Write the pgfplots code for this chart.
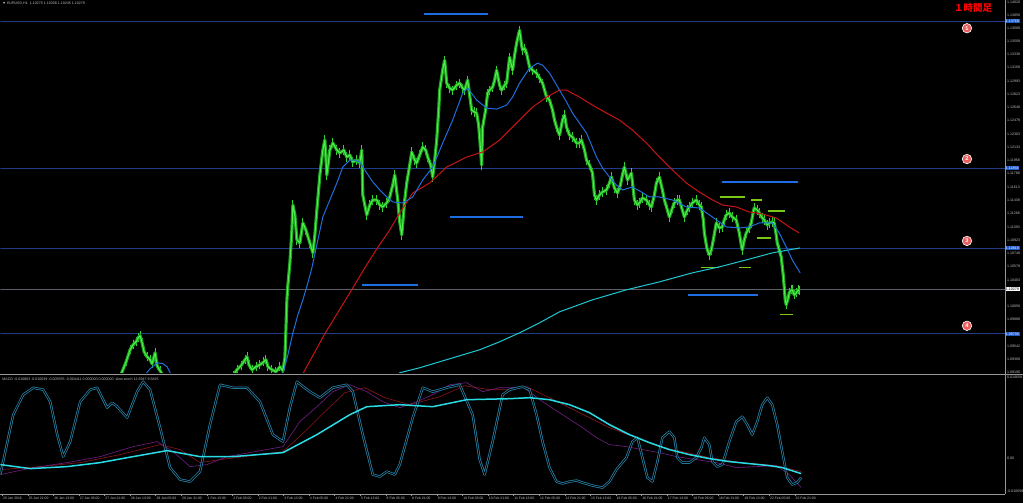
\documentclass[border=0pt]{standalone}
\usepackage{fontspec}
\setmainfont{Liberation Sans}
\newfontfamily\cjk{Noto Sans CJK JP}
\usepackage{pgfplots}
\pgfplotsset{compat=1.18}
\usepackage{pgfplotstable}
\definecolor{scalegray}{RGB}{150,150,150}
\definecolor{labelgray}{RGB}{190,190,190}
\definecolor{candledark}{RGB}{30,165,30}
\definecolor{candlebright}{RGB}{80,240,80}
\definecolor{wick}{RGB}{50,215,50}
\definecolor{colblue}{RGB}{30,110,220}
\definecolor{colred}{RGB}{200,20,20}
\definecolor{colcyan}{RGB}{30,200,210}
\definecolor{hline}{RGB}{30,60,135}
\definecolor{curline}{RGB}{90,95,105}
\definecolor{segblue}{RGB}{30,110,225}
\definecolor{seggreen}{RGB}{120,200,20}
\definecolor{stochcol}{RGB}{40,135,175}
\definecolor{thickcyan}{RGB}{40,220,230}
\definecolor{macdpurple}{RGB}{115,30,135}
\definecolor{macdred}{RGB}{140,20,30}
\definecolor{circfill}{RGB}{235,95,95}
\definecolor{boxblue}{RGB}{30,90,200}

\pgfplotstableread{
x p
118 1.09102
122 1.09206
126 1.09336
130 1.09492
133 1.09557
136 1.09596
138 1.09648
140 1.09674
142 1.09583
144 1.09466
147 1.09401
150 1.09362
152 1.09310
155 1.09453
157 1.09284
160 1.09219
164 1.09128
170 1.08972
200 1.08842
228 1.08946
233 1.09154
237 1.09232
241 1.09284
245 1.09362
247 1.09401
249 1.09297
252 1.09232
256 1.09271
260 1.09297
264 1.09336
266 1.09362
268 1.09271
272 1.09232
276 1.09206
280 1.09271
283 1.09219
285 1.09388
286 1.09752
287 1.10142
288 1.10337
290 1.10623
292 1.11052
293 1.11377
295 1.11247
297 1.10922
300 1.10883
303 1.11143
306 1.11052
310 1.10883
313 1.10753
315 1.10987
317 1.11312
320 1.11767
323 1.12092
325 1.12222
327 1.11767
330 1.12092
333 1.12183
337 1.12092
340 1.12053
344 1.12092
347 1.12001
350 1.12027
353 1.11936
357 1.11962
360 1.11923
362 1.12092
363 1.11507
365 1.11377
367 1.11247
370 1.11377
373 1.11442
377 1.11442
380 1.11377
383 1.11351
387 1.11403
390 1.11481
393 1.11637
395 1.11767
398 1.11442
400 1.11156
402 1.10987
405 1.11442
407 1.11663
410 1.11897
412 1.12066
415 1.11962
417 1.11923
420 1.12027
423 1.12131
426 1.12092
428 1.12001
431 1.11897
433 1.11741
435 1.11962
437 1.12222
439 1.12612
440 1.12872
443 1.13132
445 1.13262
447 1.12963
450 1.12898
453 1.12872
457 1.12937
460 1.12963
463 1.12898
465 1.12872
468 1.13002
470 1.12807
472 1.12612
475 1.12586
477 1.12573
479 1.12417
480 1.12261
482 1.11897
483 1.12391
486 1.12612
488 1.12833
490 1.12872
493 1.12911
495 1.13002
497 1.13132
500 1.12937
502 1.12872
505 1.12937
507 1.12963
510 1.13301
513 1.13132
515 1.13327
517 1.13483
520 1.13652
522 1.13457
523 1.13392
525 1.13418
527 1.13353
530 1.13171
533 1.13132
537 1.13093
540 1.13028
543 1.12963
547 1.12781
550 1.12742
553 1.12612
555 1.12482
557 1.12391
560 1.12287
563 1.12482
565 1.12547
567 1.12391
570 1.12287
573 1.12261
577 1.12183
580 1.12183
582 1.12222
585 1.12092
587 1.11962
590 1.11897
593 1.11793
595 1.11507
597 1.11442
600 1.11507
603 1.11546
607 1.11572
610 1.11663
612 1.11741
615 1.11598
618 1.11533
621 1.11637
623 1.11767
625 1.11871
628 1.11702
632 1.11793
635 1.11442
638 1.11377
640 1.11403
643 1.11468
647 1.11442
650 1.11377
652 1.11351
655 1.11507
657 1.11663
660 1.11741
663 1.11572
665 1.11442
668 1.11312
670 1.11221
673 1.11338
675 1.11403
678 1.11442
680 1.11442
683 1.11312
685 1.11221
688 1.11312
690 1.11351
693 1.11403
697 1.11442
700 1.11377
702 1.11351
704 1.11182
705 1.11013
707 1.10857
708 1.10792
710 1.10727
712 1.10792
714 1.10922
717 1.11143
720 1.11078
723 1.11091
725 1.11182
727 1.11247
730 1.11273
733 1.11221
737 1.11182
740 1.11013
742 1.10857
743 1.10792
745 1.10922
747 1.11013
750 1.11078
752 1.11143
754 1.11286
755 1.11338
758 1.11312
760 1.11273
763 1.11208
765 1.11182
768 1.11117
770 1.11143
773 1.11156
775 1.11143
777 1.10987
778 1.10883
780 1.10792
782 1.10701
784 1.10467
785 1.10311
786 1.10142
787 1.10077
789 1.10168
790 1.10233
792 1.10272
793 1.10272
795 1.10207
797 1.10233
799 1.10272
800 1.10259
}\price

\pgfplotstableread{
x p
130 1.08900
140 1.09050
145 1.09167
150 1.09245
157 1.09323
163 1.09310
167 1.09271
170 1.09193
175 1.09076
200 1.08907
250 1.08946
275 1.09037
283 1.09180
288 1.09427
293 1.09713
298 1.09947
303 1.10142
308 1.10363
312 1.10558
318 1.10922
323 1.11221
330 1.11442
337 1.11663
343 1.11871
350 1.11962
355 1.11962
360 1.11936
367 1.11793
373 1.11676
380 1.11572
387 1.11481
393 1.11416
403 1.11403
413 1.11481
423 1.11702
433 1.11871
443 1.12183
453 1.12482
463 1.12833
468 1.12898
477 1.12742
487 1.12638
497 1.12625
507 1.12677
513 1.12781
520 1.12963
530 1.13158
538 1.13223
543 1.13197
550 1.13093
560 1.12872
566 1.12742
573 1.12573
580 1.12443
587 1.12313
597 1.12001
603 1.11858
610 1.11741
617 1.11637
623 1.11572
633 1.11611
642 1.11546
650 1.11481
660 1.11481
673 1.11442
687 1.11351
700 1.11338
713 1.11221
727 1.11091
740 1.11078
750 1.11091
760 1.11143
773 1.11143
780 1.11013
787 1.10831
793 1.10662
801 1.10493
}\maBlueData

\pgfplotstableread{
x p
295 1.08980
303 1.09180
325 1.09700
350 1.10233
365 1.10558
377 1.10805
390 1.11052
400 1.11273
413 1.11533
430 1.11663
447 1.11871
467 1.12001
483 1.12066
500 1.12222
520 1.12482
533 1.12651
547 1.12781
560 1.12872
567 1.12872
580 1.12781
593 1.12677
607 1.12573
620 1.12482
633 1.12352
647 1.12183
660 1.12001
673 1.11832
687 1.11663
700 1.11546
713 1.11442
723 1.11377
737 1.11351
750 1.11286
763 1.11260
777 1.11208
790 1.11091
800 1.11013
}\maRedData

\pgfplotstableread{
x p
390 1.09050
400 1.09193
420 1.09258
450 1.09375
480 1.09492
500 1.09596
520 1.09713
540 1.09843
560 1.09986
593 1.10142
627 1.10272
660 1.10376
693 1.10493
720 1.10571
747 1.10662
773 1.10753
801 1.10818
}\maCyanData

\pgfplotstableread{
x v
0 20
13 80
23 100
33 107
43 105
50 93
57 60
63 38
70 53
80 93
90 105
97 107
107 87
112 92
117 88
127 77
137 103
143 113
150 105
160 67
170 27
180 15
190 13
200 23
210 70
220 110
233 107
247 107
260 93
273 60
283 53
290 87
297 113
310 103
320 97
333 107
347 110
353 103
363 60
373 20
380 18
387 23
395 20
400 30
413 77
423 107
433 103
447 107
460 110
473 80
480 35
485 20
493 53
503 100
510 105
523 108
530 105
537 80
543 53
550 27
557 13
563 11
570 13
577 14
583 12
593 9
603 7
610 13
617 25
627 37
633 53
638 57
643 37
648 17
653 13
658 33
663 57
670 63
675 57
678 37
683 32
690 32
697 37
702 47
705 57
710 50
713 33
718 28
723 30
730 53
737 73
743 78
748 70
753 60
758 73
763 90
768 97
773 90
778 70
783 43
788 17
793 10
798 12
802 17
}\stochData

\pgfplotstableread{
x v
0 30
30 26
67 28
100 32
133 38
167 44
200 38
233 38
283 42
317 60
350 80
367 88
400 90
433 88
467 95
510 96
530 97
550 95
570 90
590 82
610 70
630 60
650 52
670 45
690 40
710 36
730 33
750 31
770 29
783 27
802 21
}\thickData

\pgfplotstableread{
x v
0 20
33 27
67 32
100 38
133 48
157 53
173 43
190 28
207 30
227 38
283 48
300 73
317 88
333 103
350 110
367 103
383 93
400 87
417 93
433 100
450 110
467 112
483 103
500 107
510 107
523 108
543 93
563 80
583 67
597 57
610 50
627 48
643 45
660 42
677 38
697 35
717 32
737 27
757 28
777 29
790 20
802 7
}\macdMainData

\pgfplotstableread{
x v
0 25
40 28
80 32
120 40
160 50
180 45
200 32
220 35
283 43
305 63
325 83
345 102
365 107
385 97
410 90
440 98
465 109
490 105
510 105
527 108
550 97
570 87
590 77
610 67
637 57
660 48
683 43
710 37
743 32
777 29
802 23
}\macdSigData

\tikzset{circlab/.style={circle, fill=circfill, draw=white, line width=0.6pt, inner sep=0pt, minimum size=9.5pt, text=white, font=\fontsize{5.5}{6}\selectfont\bfseries},
  pricebox/.style={anchor=west, inner sep=0.8pt, font=\fontsize{3.6}{4}\selectfont}}

\begin{document}
\begin{tikzpicture}
\fill[black] (0pt,0pt) rectangle (1024pt,503pt);

% ---------------- main price panel ----------------
\begin{axis}[
  at={(0pt,130pt)}, anchor=south west,
  clip bounding box=upper bound,
  width=1006pt, height=373pt, scale only axis,
  xmin=0, xmax=1006, ymin=1.09193, ymax=1.14042,
  axis line style={draw=none},
  xtick=\empty,
  ytick={1.14020,1.13850,1.13680,1.13508,1.13338,1.13168,1.12993,1.12823,1.12648,1.12478,1.12303,1.12133,1.11958,1.11788,1.11613,1.11438,1.11268,1.11093,1.10923,1.10748,1.10578,1.10403,1.10058,1.09888,1.09542,1.09368,1.09205},
  yticklabels={1.14020,1.13850,1.13680,1.13508,1.13338,1.13168,1.12993,1.12823,1.12648,1.12478,1.12303,1.12133,1.11958,1.11788,1.11613,1.11438,1.11268,1.11093,1.10923,1.10748,1.10578,1.10403,1.10058,1.09888,1.09542,1.09368,1.09190},
  ytick pos=right, yticklabel pos=right,
  tick align=outside, major tick length=1.5pt,
  tick style={draw=scalegray, line width=0.4pt},
  yticklabel style={font=\fontsize{3.6}{4}\selectfont, text=labelgray, inner sep=0.6pt},
]
% horizontal level lines
\addplot[hline, line width=0.8pt] coordinates {(0,1.13769) (1006,1.13769)};
\addplot[hline, line width=0.8pt] coordinates {(0,1.11858) (1006,1.11858)};
\addplot[hline, line width=0.8pt] coordinates {(0,1.10818) (1006,1.10818)};
\addplot[hline, line width=0.8pt] coordinates {(0,1.09700) (1006,1.09700)};
\addplot[curline, line width=0.6pt] coordinates {(0,1.10279) (1006,1.10279)};
% short annotation lines
\addplot[segblue, line width=1.5pt] coordinates {(424,1.13860) (488,1.13860)};
\addplot[segblue, line width=1.5pt] coordinates {(450,1.11221) (523,1.11221)};
\addplot[segblue, line width=1.5pt] coordinates {(362,1.10337) (418,1.10337)};
\addplot[segblue, line width=1.5pt] coordinates {(723,1.11676) (799,1.11676)};
\addplot[segblue, line width=1.5pt] coordinates {(689,1.10207) (759,1.10207)};
\addplot[seggreen, line width=1.2pt] coordinates {(721,1.11481) (746,1.11481)};
\addplot[seggreen, line width=1.2pt] coordinates {(752,1.11442) (763,1.11442)};
\addplot[seggreen, line width=1.2pt] coordinates {(769,1.11299) (786,1.11299)};
\addplot[seggreen, line width=1.2pt] coordinates {(758,1.10948) (772,1.10948)};
\addplot[seggreen, line width=1.2pt] coordinates {(702,1.10558) (720,1.10558)};
\addplot[seggreen, line width=1.2pt] coordinates {(740,1.10558) (752,1.10558)};
\addplot[seggreen, line width=1.2pt] coordinates {(781,1.09947) (794,1.09947)};
% candles (body path + wicks)
\addplot[draw=none, mark=none, error bars/.cd, y dir=both, y fixed=0.0006,
  error mark=none, error bar style={wick, line width=0.9pt}] table[x=x,y=p] {\price};
\addplot[candledark, line width=3.2pt, line join=round] table[x=x,y=p] {\price};
\addplot[candlebright, line width=1.0pt, line join=round] table[x=x,y=p] {\price};
% moving averages
\addplot[colcyan, line width=1pt] table[x=x,y=p] {\maCyanData};
\addplot[colred, line width=1pt] table[x=x,y=p] {\maRedData};
\addplot[colblue, line width=1pt] table[x=x,y=p] {\maBlueData};
\coordinate (c1) at (axis cs:968,1.13678);
\coordinate (c2) at (axis cs:968,1.11975);
\coordinate (c3) at (axis cs:968,1.10909);
\coordinate (c4) at (axis cs:968,1.09804);
\coordinate (b1) at (axis cs:1006,1.13769);
\coordinate (b2) at (axis cs:1006,1.11858);
\coordinate (b3) at (axis cs:1006,1.10818);
\coordinate (b4) at (axis cs:1006,1.09700);
\coordinate (b5) at (axis cs:1006,1.10279);
\end{axis}

% circled labels and price boxes (positioned from the axis coordinates)
\node[circlab] at (c1) {1};
\node[circlab] at (c2) {2};
\node[circlab] at (c3) {3};
\node[circlab] at (c4) {4};
\node[pricebox, fill=boxblue, text=white] at (b1) {1.13769};
\node[pricebox, fill=boxblue, text=white] at (b2) {1.11858};
\node[pricebox, fill=boxblue, text=white] at (b3) {1.10818};
\node[pricebox, fill=boxblue, text=white] at (b4) {1.09700};
\node[pricebox, fill=white, text=black] at (b5) {1.10279};

% ---------------- indicator panel ----------------
\begin{axis}[
  at={(0pt,8pt)}, anchor=south west,
  clip bounding box=upper bound,
  width=1006pt, height=120pt, scale only axis,
  xmin=0, xmax=1006, ymin=0, ymax=120,
  axis line style={draw=none},
  xtick={2,27.6,53.2,78.8,104.4,130,155.6,181.2,206.8,232.4,258,283.6,309.2,334.8,360.4,386,411.6,437.2,462.8,488.4,514,539.6,565.2,590.8,616.4,642,667.6,693.2,718.8,744.4,770,795.6},
  xticklabels={25 Jan 2016,25 Jan 21:00,26 Jan 13:00,27 Jan 05:00,27 Jan 21:00,28 Jan 13:00,29 Jan 05:00,29 Jan 21:00,1 Feb 13:00,2 Feb 05:00,2 Feb 21:00,3 Feb 13:00,4 Feb 05:00,4 Feb 21:00,5 Feb 13:00,8 Feb 05:00,8 Feb 21:00,9 Feb 13:00,10 Feb 05:00,10 Feb 21:00,11 Feb 13:00,12 Feb 05:00,12 Feb 21:00,15 Feb 13:00,16 Feb 05:00,16 Feb 21:00,17 Feb 13:00,18 Feb 05:00,18 Feb 21:00,19 Feb 13:00,22 Feb 05:00,22 Feb 21:00},
  xtick pos=bottom,
  xticklabel style={anchor=north west, font=\fontsize{3.4}{4}\selectfont, text=labelgray, inner sep=0.4pt, xshift=0.3pt},
  ytick={117,36,3},
  yticklabels={0.010658,0.00,-0.010658},
  ytick pos=right, yticklabel pos=right,
  tick align=outside, major tick length=1.5pt,
  tick style={draw=scalegray, line width=0.4pt},
  yticklabel style={font=\fontsize{3.6}{4}\selectfont, text=labelgray, inner sep=0.6pt},
]
\addplot[macdred, line width=0.6pt] table[x=x,y=v] {\macdSigData};
\addplot[macdpurple, line width=0.6pt] table[x=x,y=v] {\macdMainData};
\addplot[stochcol, line width=2.4pt, line join=round] table[x=x,y=v] {\stochData};
\addplot[black, line width=0.9pt, line join=round] table[x=x,y=v] {\stochData};
\addplot[thickcyan, line width=1.5pt] table[x=x,y=v] {\thickData};
\end{axis}

% frames
\draw[scalegray, line width=0.6pt] (0pt,128.5pt) -- (1024pt,128.5pt);
\draw[scalegray, line width=0.5pt] (0pt,8.5pt) -- (1006.5pt,8.5pt);
\draw[scalegray, line width=0.5pt] (1006.5pt,8.5pt) -- (1006.5pt,503pt);

% header texts
\node[anchor=west, inner sep=0pt, text=labelgray, font=\fontsize{3.6}{4}\selectfont] at (2pt,500pt) {▼ EURUSD,H1 \ 1.10275 1.10308 1.10245 1.10279};
\node[anchor=west, inner sep=0pt, text=labelgray, font=\fontsize{3.6}{4}\selectfont] at (2pt,124pt) {MACD -0.010863 -0.010039 -0.005555 -0.004411 0.000000 0.000000 \ slow-stoch 12.6947 9.5825};
\node[anchor=west, inner sep=0pt, text=red, font=\fontsize{9.5}{10}\cjk\bfseries] at (955pt,495.5pt) {１時間足};
\useasboundingbox (0pt,0pt) rectangle (1024pt,503pt);
\end{tikzpicture}
\end{document}
